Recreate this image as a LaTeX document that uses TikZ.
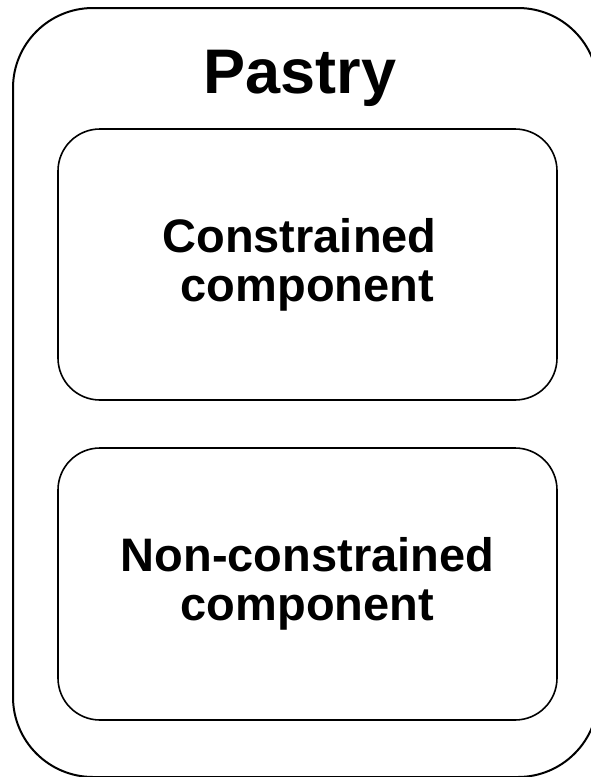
\documentclass[tikz,border=0pt]{standalone}
\usepackage{fontspec}
\setmainfont{Liberation Sans}
\tikzset{outer box/.style={draw, rounded corners=80pt, line width=2pt,
   minimum width=585pt, minimum height=769pt},
 part box/.style={draw, rounded corners=42pt, line width=1.6pt,
   minimum width=499pt, align=center,
   font=\bfseries\fontsize{47}{49}\selectfont},
 title/.style={font=\bfseries\fontsize{63}{70}\selectfont, anchor=base},
 }

\begin{document}
\begin{tikzpicture}[x=1pt,y=-1pt]
        \useasboundingbox (0,0) rectangle (591,777);
        \node[outer box] (pastry) at (305.5, 392.5) {};
        \node[title] (name) at (300, 93) {Pastry};
        \node[part box, minimum height=271pt] (con) at (307.5, 264.5)
            {Constrained\hspace*{16pt}\\component};
        \node[part box, minimum height=272pt] (noncon) at (307.5, 584)
            {Non-constrained\\component};
    \end{tikzpicture}
\end{document}
